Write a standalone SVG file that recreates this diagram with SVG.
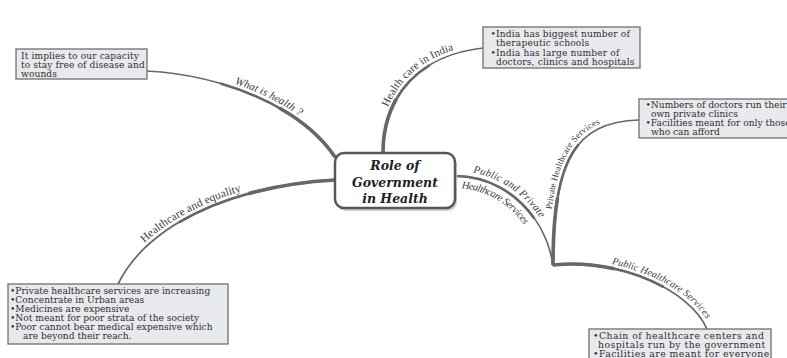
<svg xmlns="http://www.w3.org/2000/svg" xmlns:xlink="http://www.w3.org/1999/xlink" width="787" height="358" viewBox="0 0 787 358">
<style>
.box{fill:#e8e9ec;stroke:#6f6f6f;stroke-width:1.3}
.bt{font-family:"DejaVu Serif","Liberation Serif",serif;font-size:9.1px;fill:#2e2e2e}
.lbl{font-family:"Liberation Serif","DejaVu Serif",serif;fill:#3a3a3a}
.it{font-style:italic}
.c{fill:none;stroke:#676767;stroke-linecap:butt}
.w1{stroke-width:1.7;stroke-linecap:round}
.f2{stroke-width:2.6;stroke-dasharray:65 200}
.f3{stroke-width:3.6;stroke-dasharray:35 200}
.r2{stroke-width:2.6;stroke-dasharray:0 35 65 200}
.r3{stroke-width:3.6;stroke-dasharray:0 65 35 200}
.ctr{font-family:"DejaVu Serif","Liberation Serif",serif;font-weight:bold;font-style:italic;font-size:12.5px;fill:#222}
</style>
<defs>
<path id="tp1" d="M147,71 C220,75 300,105 335,157"/>
<path id="tp2" d="M383,153 C383,95 420,55 483,48"/>
<path id="tp3" d="M118,284 C150,220 240,185 335,180"/>
<path id="tp4" d="M455,176 C505,176 545,215 553,265"/>
<path id="tp5" d="M553,265 C553,160 575,122 639,120"/>
<path id="tp6" d="M553,265 C620,258 690,290 707,329"/>
</defs>
<g id="connectors">
<path class="c w1" d="M147,71 C220,75 300,105 335,157"/>
<path class="c r2" pathLength="100" d="M147,71 C220,75 300,105 335,157"/>
<path class="c r3" pathLength="100" d="M147,71 C220,75 300,105 335,157"/>
<path class="c w1" d="M383,153 C383,95 420,55 483,48"/>
<path class="c f2" pathLength="100" d="M383,153 C383,95 420,55 483,48"/>
<path class="c f3" pathLength="100" d="M383,153 C383,95 420,55 483,48"/>
<path class="c w1" d="M118,284 C150,220 240,185 335,180"/>
<path class="c r2" pathLength="100" d="M118,284 C150,220 240,185 335,180"/>
<path class="c r3" pathLength="100" d="M118,284 C150,220 240,185 335,180"/>
<path class="c w1" d="M455,176 C505,176 545,215 553,265"/>
<path class="c f2" pathLength="100" d="M455,176 C505,176 545,215 553,265"/>
<path class="c w1" d="M553,265 C553,160 575,122 639,120"/>
<path class="c f2" pathLength="100" d="M553,265 C553,160 575,122 639,120"/>
<path class="c f3" pathLength="100" d="M553,265 C553,160 575,122 639,120"/>
<path class="c w1" d="M553,265 C620,258 690,290 707,329"/>
<path class="c f2" pathLength="100" d="M553,265 C620,258 690,290 707,329"/>
<path class="c f3" pathLength="100" d="M553,265 C620,258 690,290 707,329"/>
<text class="lbl it" font-size="11"><textPath href="#tp1" startOffset="88"><tspan dy="-4">What is health ?</tspan></textPath></text>
<text class="lbl" font-size="11"><textPath href="#tp2" startOffset="45"><tspan dy="-4">Health care in India</tspan></textPath></text>
<text class="lbl" font-size="11.5"><textPath href="#tp3" startOffset="48"><tspan dy="-4">Healthcare and equality</tspan></textPath></text>
<text class="lbl it" font-size="10.5"><textPath href="#tp4" startOffset="17"><tspan dy="-5">Public and Private</tspan></textPath></text>
<text class="lbl it" font-size="10.5"><textPath href="#tp4" startOffset="8"><tspan dy="12">Healthcare Services</tspan></textPath></text>
<text class="lbl" font-size="9"><textPath href="#tp5" startOffset="55"><tspan dy="-4">Private Healthcare Services</tspan></textPath></text>
<text class="lbl it" font-size="10"><textPath href="#tp6" startOffset="58"><tspan dy="-4">Public Healthcare Services</tspan></textPath></text>
</g>
<g id="center">
<rect x="337" y="156" width="120" height="55" rx="9" fill="#d0d0d0"/>
<rect x="335" y="153" width="120" height="55" rx="9" fill="#fff" stroke="#575757" stroke-width="2.5"/>
<text class="ctr" text-anchor="middle"><tspan x="395" y="170">Role of</tspan><tspan x="395" y="187">Government</tspan><tspan x="395" y="203">in Health</tspan></text>
</g>
<g id="box-health">
<rect class="box" x="16" y="49" width="131" height="30"/>
<text class="bt" letter-spacing="0.1"><tspan x="21" y="58.5">It implies to our capacity</tspan><tspan x="21" y="67.5">to stay free of disease and</tspan><tspan x="21" y="76.5">wounds</tspan></text>
</g>
<g id="box-india">
<rect class="box" x="483" y="27" width="157" height="41"/>
<text class="bt" letter-spacing="0.15"><tspan x="490.5" y="37">•India has biggest number of</tspan><tspan x="496" y="46">therapeutic schools</tspan><tspan x="490.5" y="55.5">•India has large number of</tspan><tspan x="496" y="64.5">doctors, clinics and hospitals</tspan></text>
</g>
<g id="box-private">
<rect class="box" x="639" y="99" width="160" height="39"/>
<text class="bt"><tspan x="645.5" y="108">•Numbers of doctors run their</tspan><tspan x="651" y="117">own private clinics</tspan><tspan x="645.5" y="126">•Facilities meant for only those</tspan><tspan x="651" y="135">who can afford</tspan></text>
</g>
<g id="box-equality">
<rect class="box" x="8" y="284" width="220" height="60"/>
<text class="bt"><tspan x="10" y="293.5">•Private healthcare services are increasing</tspan><tspan x="10" y="302.5">•Concentrate in Urban areas</tspan><tspan x="10" y="311.5">•Medicines are expensive</tspan><tspan x="10" y="320.5">•Not meant for poor strata of the society</tspan><tspan x="10" y="329.5">•Poor cannot bear medical expensive which</tspan><tspan x="23" y="338.5">are beyond their reach.</tspan></text>
</g>
<g id="box-public">
<rect class="box" x="589" y="329" width="182" height="40"/>
<text class="bt" letter-spacing="0.45" style="font-size:9.3px"><tspan x="593" y="338.5">•Chain of healthcare centers and</tspan><tspan x="598" y="347.5">hospitals run by the government</tspan><tspan x="593" y="357">•Facilities are meant for everyone</tspan></text>
</g>
</svg>
